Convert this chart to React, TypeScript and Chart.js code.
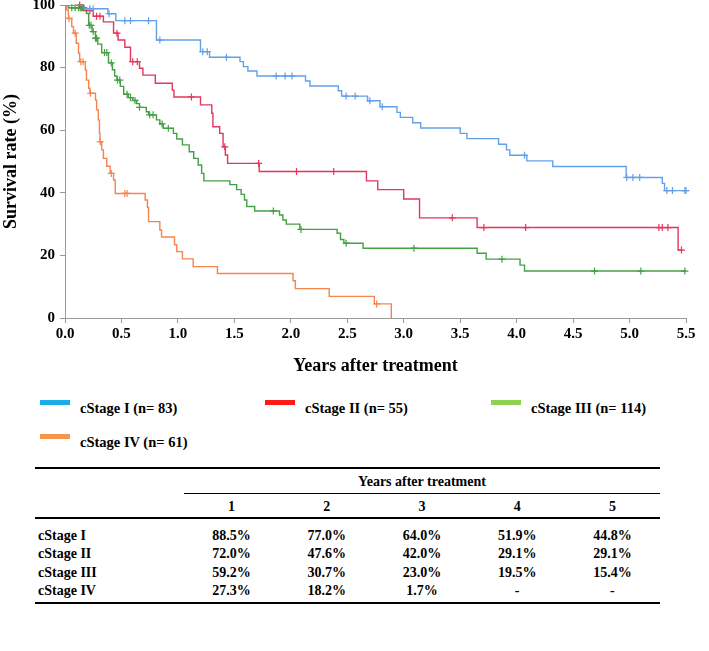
import React, { useEffect, useRef } from "react";
import { Chart, registerables } from "chart.js";

Chart.register(...registerables);

// ---------- DATA ----------
const seriesLabels = ["cStage I (n= 83)", "cStage II (n= 55)", "cStage III (n= 114)", "cStage IV (n= 61)"];

const stageITimes = [0, 0.17, 0.38, 0.45, 0.81, 1.2, 1.28, 1.55, 1.58, 1.62, 1.7, 2.13, 2.17, 2.42, 2.45, 2.68, 2.79, 2.94, 2.97, 3.08, 3.15, 3.5, 3.56, 3.84, 3.91, 3.94, 4.09, 4.32, 4.97, 5.29, 5.31, 5.5];
const stageISurv = [100, 98.8, 97.2, 95.0, 88.8, 85.1, 83.3, 81.9, 80.3, 78.9, 77.3, 75.7, 74.1, 72.6, 70.9, 69.4, 67.5, 65.7, 64.1, 62.4, 60.7, 59.0, 57.3, 55.5, 53.7, 52.0, 50.2, 48.4, 44.9, 43.0, 40.7, 40.7];
const stageICensor = [0.22, 0.25, 0.39, 0.53, 0.58, 0.74, 0.84, 1.22, 1.26, 1.43, 1.87, 1.95, 2.01, 2.49, 2.57, 2.7, 2.81, 4.07, 4.975, 5.03, 5.09, 5.33, 5.38, 5.49, 5.5];

const stageIITimes = [0, 0.17, 0.25, 0.34, 0.43, 0.47, 0.53, 0.58, 0.66, 0.69, 0.8, 0.95, 0.965, 1.2, 1.3, 1.31, 1.37, 1.4, 1.42, 1.44, 1.72, 2.67, 2.77, 3.0, 3.14, 3.65, 5.43, 5.47];
const stageIISurv = [100, 98.2, 96.4, 94.6, 91.0, 88.8, 86.5, 81.9, 79.8, 77.6, 75.0, 72.8, 70.6, 68.1, 65.4, 61.1, 59.0, 54.7, 52.1, 49.4, 46.8, 43.8, 41.0, 38.0, 32.0, 28.9, 21.7, 21.7];
const stageIICensor = [0.13, 0.22, 0.28, 0.31, 0.46, 0.6, 0.64, 1.12, 1.415, 1.715, 2.05, 2.38, 3.43, 3.71, 4.08, 5.26, 5.29, 5.34, 5.46];

const stageIIITimes = [0, 0.03, 0.19, 0.21, 0.24, 0.27, 0.29, 0.325, 0.385, 0.42, 0.44, 0.46, 0.49, 0.52, 0.56, 0.6, 0.635, 0.66, 0.72, 0.74, 0.81, 0.84, 0.87, 0.96, 0.99, 1.04, 1.1, 1.14, 1.18, 1.21, 1.23, 1.46, 1.52, 1.56, 1.59, 1.61, 1.68, 1.9, 1.93, 1.96, 2.08, 2.41, 2.44, 2.47, 2.64, 3.65, 3.73, 4.03, 4.07, 5.5];
const stageIIISurv = [100, 99.1, 97.3, 93.5, 91.5, 89.4, 87.5, 84.8, 81.5, 79.3, 77.3, 76.0, 74.0, 71.5, 70.4, 69.5, 68.5, 67.3, 65.9, 64.9, 63.3, 62.0, 60.6, 59.0, 57.2, 55.3, 53.1, 51.0, 48.9, 46.2, 43.8, 42.6, 41.0, 39.5, 37.7, 35.6, 34.2, 32.9, 31.3, 30.0, 28.3, 27.1, 25.1, 23.9, 22.3, 20.7, 18.8, 16.9, 15.0, 15.0];
const stageIIICensor = [0.06, 0.09, 0.12, 0.135, 0.145, 0.155, 0.165, 0.215, 0.23, 0.25, 0.27, 0.28, 0.35, 0.37, 0.41, 0.465, 0.485, 0.55, 0.58, 0.62, 0.66, 0.75, 0.78, 0.86, 0.915, 1.845, 2.09, 2.49, 3.09, 3.87, 4.69, 5.1, 5.49];

const stageIVTimes = [0, 0.015, 0.03, 0.06, 0.075, 0.1, 0.12, 0.13, 0.18, 0.19, 0.21, 0.22, 0.27, 0.28, 0.295, 0.305, 0.31, 0.325, 0.34, 0.37, 0.4, 0.43, 0.445, 0.71, 0.73, 0.74, 0.84, 0.855, 0.97, 0.99, 1.04, 1.135, 1.35, 2.02, 2.04, 2.34, 2.74, 2.89];
const stageIVSurv = [100, 98.4, 95.7, 93.1, 91.0, 87.8, 84.6, 81.9, 79.2, 76.0, 73.4, 71.8, 69.6, 66.5, 63.3, 59.0, 56.3, 53.7, 51.0, 48.5, 46.2, 44.1, 39.8, 37.7, 35.3, 30.8, 28.1, 25.9, 23.4, 21.2, 18.9, 16.4, 14.2, 11.9, 9.4, 6.9, 4.5, 0];
const stageIVCensor = [0.035, 0.09, 0.14, 0.16, 0.225, 0.312, 0.41, 0.53, 0.55, 2.76];

const tableYears = ["1", "2", "3", "4", "5"];
const tableRowLabels = ["cStage I", "cStage II", "cStage III", "cStage IV"];
const stageIRates = ["88.5%", "77.0%", "64.0%", "51.9%", "44.8%"];
const stageIIRates = ["72.0%", "47.6%", "42.0%", "29.1%", "29.1%"];
const stageIIIRates = ["59.2%", "30.7%", "23.0%", "19.5%", "15.4%"];
const stageIVRates = ["27.3%", "18.2%", "1.7%", "-", "-"];

// ---------- STYLE ----------
const lineColors = ["#63a0e8", "#e3375d", "#44a044", "#f5854f"];
const legendColors = ["#1aaee8", "#ff1a1a", "#8fd14f", "#f7964a"];
const SERIF = "'Liberation Serif', 'Times New Roman', serif";

function survAt(times: number[], surv: number[], t: number) {
  let v = surv[0];
  for (let i = 0; i < times.length; i++) {
    if (times[i] <= t) v = surv[i];
  }
  return v;
}

export default function App() {
  const ref = useRef<HTMLCanvasElement | null>(null);

  useEffect(() => {
    if (!ref.current) return;
    const groups = [
      [stageITimes, stageISurv, stageICensor],
      [stageIITimes, stageIISurv, stageIICensor],
      [stageIIITimes, stageIIISurv, stageIIICensor],
      [stageIVTimes, stageIVSurv, stageIVCensor],
    ] as number[][][];
    const datasets: any[] = [];
    groups.forEach(([times, surv, cens], i) => {
      datasets.push({
        label: seriesLabels[i],
        data: times.map((t, j) => ({ x: t, y: surv[j] })),
        stepped: true,
        borderColor: lineColors[i],
        borderWidth: 1.4,
        pointRadius: 0,
        fill: false,
      });
      datasets.push({
        label: seriesLabels[i] + " censored",
        data: cens.map((t) => ({ x: t, y: survAt(times, surv, t) })),
        showLine: false,
        pointStyle: "cross",
        pointRadius: 3.5,
        pointBorderWidth: 1.2,
        borderColor: lineColors[i],
        backgroundColor: lineColors[i],
        clip: false,
      });
    });

    const chart = new Chart(ref.current, {
      type: "line",
      data: { datasets },
      options: {
        animation: false,
        responsive: false,
        maintainAspectRatio: false,
        layout: { padding: { left: 0, right: 23, top: 5, bottom: 0 }, autoPadding: false },
        plugins: { legend: { display: false }, tooltip: { enabled: false } },
        scales: {
          x: {
            type: "linear",
            min: 0,
            max: 5.5,
            grid: { display: true, drawOnChartArea: false, drawTicks: true, tickLength: 5, color: "#9a9a9a" },
            border: { display: true, color: "#9a9a9a", width: 1 },
            ticks: {
              stepSize: 0.5,
              padding: 2,
              color: "#000",
              font: { family: SERIF, size: 15, weight: "bold" },
              callback: (v: any) => Number(v).toFixed(1),
            },
            title: {
              display: true,
              text: "Years after treatment",
              color: "#000",
              font: { family: SERIF, size: 18, weight: "bold" },
              padding: { top: 0, bottom: 13 },
            },
            afterFit: (s: any) => {
              s.height = 72;
              s.paddingLeft = 0;
              s.paddingRight = 0;
            },
          },
          y: {
            min: 0,
            max: 100,
            grid: { display: true, drawOnChartArea: false, drawTicks: true, tickLength: 5, color: "#9a9a9a" },
            border: { display: true, color: "#9a9a9a", width: 1 },
            ticks: {
              stepSize: 20,
              padding: 5,
              color: "#000",
              font: { family: SERIF, size: 15, weight: "bold" },
            },
            title: {
              display: true,
              text: "Survival rate (%)",
              color: "#000",
              font: { family: SERIF, size: 18, weight: "bold" },
              padding: { top: 1, bottom: 0 },
            },
            afterFit: (s: any) => {
              s.width = 65;
              s.paddingTop = 0;
              s.paddingBottom = 0;
            },
          },
        },
      } as any,
    });
    return () => chart.destroy();
  }, []);

  const legendPos = [
    { box: 40, text: 80, y: 405 },
    { box: 265, text: 305, y: 405 },
    { box: 491, text: 531, y: 405 },
    { box: 40, text: 80, y: 439 },
  ];

  const rates = [stageIRates, stageIIRates, stageIIIRates, stageIVRates];
  const rowY = [536, 554, 573, 591];
  const colStart = 184;
  const colW = 95.2;
  const tFont: React.CSSProperties = { fontFamily: SERIF, fontWeight: "bold", fontSize: 14, color: "#000", position: "absolute", height: 18, lineHeight: "18px", whiteSpace: "nowrap" };

  return (
    <div style={{ position: "absolute", left: 0, top: 0, width: 709, height: 651, background: "#fff", overflow: "hidden" }}>
      <canvas ref={ref} width={709} height={390} style={{ position: "absolute", left: 0, top: 0, width: 709, height: 390 }} />
      {seriesLabels.map((lab, i) => (
        <React.Fragment key={lab}>
          <div style={{ position: "absolute", left: legendPos[i].box, top: legendPos[i].y - 5, width: 30, height: 5, background: legendColors[i] }} />
          <div style={{ position: "absolute", left: legendPos[i].text, top: legendPos[i].y - 7, height: 20, lineHeight: "20px", fontFamily: SERIF, fontWeight: "bold", fontSize: 14.5, color: "#000", whiteSpace: "nowrap" }}>{lab}</div>
        </React.Fragment>
      ))}
      {/* table lines */}
      <div style={{ position: "absolute", left: 35, top: 467, width: 625, height: 2, background: "#000" }} />
      <div style={{ position: "absolute", left: colStart, top: 493, width: 660 - colStart, height: 1, background: "#000" }} />
      <div style={{ position: "absolute", left: 35, top: 517, width: 625, height: 2, background: "#000" }} />
      <div style={{ position: "absolute", left: 35, top: 602, width: 625, height: 2, background: "#000" }} />
      <div style={{ ...tFont, left: colStart, width: 660 - colStart, top: 482 - 9, textAlign: "center" }}>Years after treatment</div>
      {tableYears.map((yv, c) => (
        <div key={"h" + yv} style={{ ...tFont, left: colStart + c * colW, width: colW, top: 507 - 9, textAlign: "center" }}>{yv}</div>
      ))}
      {tableRowLabels.map((rl, r) => (
        <React.Fragment key={rl}>
          <div style={{ ...tFont, left: 38, top: rowY[r] - 9 }}>{rl}</div>
          {rates[r].map((v, c) => (
            <div key={rl + c} style={{ ...tFont, left: colStart + c * colW, width: colW, top: rowY[r] - 9, textAlign: "center" }}>{v}</div>
          ))}
        </React.Fragment>
      ))}
    </div>
  );
}
